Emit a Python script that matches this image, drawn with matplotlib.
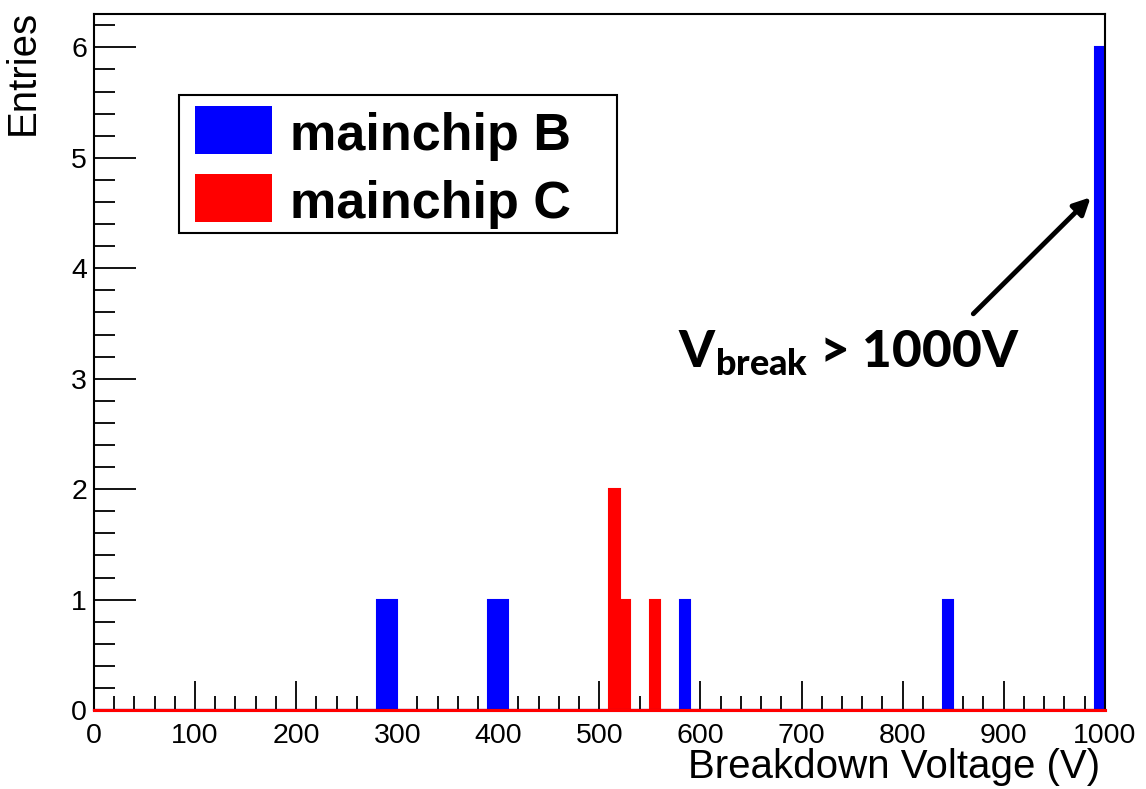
import numpy as np
import matplotlib.pyplot as plt
from matplotlib.patches import Rectangle

# breakdown voltage histograms, 10 V bins from 0 to 1000 V
bin_width = 10
x_min, x_max = 0, 1000

# lower bin edges with entries, and their counts
blue_bins = [280, 290, 390, 400, 580, 840, 990]
blue_counts = [1, 1, 1, 1, 1, 1, 6]
red_bins = [510, 520, 550]
red_counts = [2, 1, 1]

labels = ["mainchip B", "mainchip C"]
colors = ["#0000ff", "#ff0000"]

W, H = 1146, 789


def fill_hist(bins, counts):
    edges = np.arange(x_min, x_max + bin_width, bin_width)
    h = np.zeros(len(edges) - 1)
    for b, c in zip(bins, counts):
        h[int((b - x_min) // bin_width)] = c
    return edges, h


def fig_box(x0, y0, x1, y1):
    # pixel box (top-left origin) -> figure fraction rectangle
    return x0 / W, 1 - y1 / H, (x1 - x0) / W, (y1 - y0) / H


plt.rcParams['font.family'] = ['Liberation Sans', 'DejaVu Sans']
plt.rcParams['mathtext.fontset'] = 'custom'
plt.rcParams['mathtext.bf'] = 'Lato:black'
plt.rcParams['mathtext.rm'] = 'Lato:black'

fig = plt.figure(figsize=(W / 100, H / 100), dpi=100)
ax = fig.add_axes([0.082, 0.1, 0.882, 0.882])

for i, ((bins, counts), col) in enumerate(zip([(blue_bins, blue_counts), (red_bins, red_counts)], colors)):
    edges, h = fill_hist(bins, counts)
    ax.stairs(h, edges, fill=True, color=col, linewidth=0, zorder=2 + i)
    ax.stairs(h, edges, fill=False, color=col, linewidth=1.5, baseline=0, zorder=2 + i)
    ax.plot([x_min, x_max], [0, 0], color=col, lw=2.2, zorder=5 + i, clip_on=False)

ax.set_xlim(x_min, x_max)
ax.set_ylim(0, 6.3)
ax.set_xticks(np.arange(0, 1001, 100))
ax.set_xticks(np.arange(0, 1001, 20), minor=True)
ax.set_yticks(np.arange(0, 7, 1))
ax.set_yticks(np.arange(0, 6.3, 0.2), minor=True)
ax.tick_params(which='both', direction='in', top=False, right=False,
               labelsize=20.5, width=1.3)
ax.tick_params(axis='x', which='major', length=21, pad=9)
ax.tick_params(axis='x', which='minor', length=10)
ax.tick_params(axis='y', which='major', length=30, pad=5)
ax.tick_params(axis='y', which='minor', length=15)
for s in ax.spines.values():
    s.set_linewidth(1.5)

ax.set_xlabel("Breakdown Voltage (V)", fontsize=29, ha='right', x=1.0)
ax.set_ylabel("Entries", fontsize=29, ha='right', y=1.0)
ax.xaxis.set_label_coords(0.995, -0.055)
ax.yaxis.set_label_coords(-0.052, 1.006)

# ROOT-style legend box
x0, y0, w, h = fig_box(179, 95, 617, 233)
fig.add_artist(Rectangle((x0, y0), w, h, transform=fig.transFigure,
                         facecolor='white', edgecolor='black', lw=1.5, zorder=10))
for k, (lab, col) in enumerate(zip(labels, colors)):
    top = 106 + 68 * k
    px0, py0, pw, ph = fig_box(195, top, 272, top + 48)
    fig.add_artist(Rectangle((px0, py0), pw, ph, transform=fig.transFigure,
                             facecolor=col, edgecolor=col, lw=0, zorder=11))
    fig.text(290 / W, 1 - (top + 25) / H, lab, fontsize=37.5, weight='bold',
             va='center_baseline', ha='left', zorder=12)

ax.annotate("", xy=(988, 4.66), xytext=(868, 3.57),
            arrowprops=dict(arrowstyle='-|>', color='black', lw=3.5,
                            mutation_scale=25))
ax.text(578, 3.1, r"$\mathbf{V_{break}}$ > 1000V", fontsize=37,
        family='Lato', weight='black', va='baseline', ha='left')

fig.savefig("out.png", dpi=100)
